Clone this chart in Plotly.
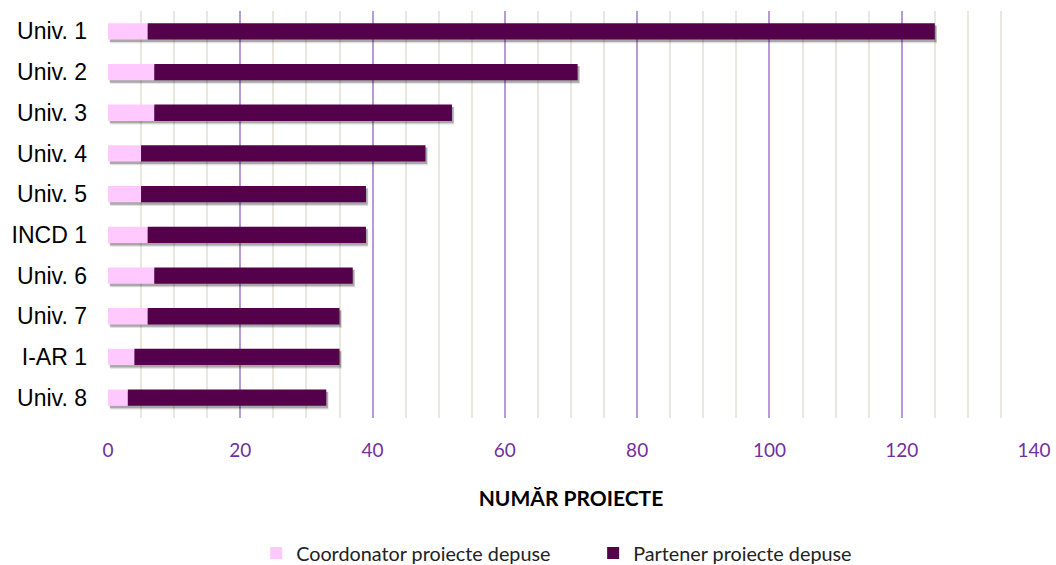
import plotly.graph_objects as go

categories = ["Univ. 1", "Univ. 2", "Univ. 3", "Univ. 4", "Univ. 5",
              "INCD 1", "Univ. 6", "Univ. 7", "I-AR 1", "Univ. 8"]
coordonator = [6, 7, 7, 5, 5, 6, 7, 6, 4, 3]
partener = [119, 64, 45, 43, 34, 33, 30, 29, 31, 30]
x_ticks = [0, 20, 40, 60, 80, 100, 120, 140]

totals = [c + p for c, p in zip(coordonator, partener)]
BW = 0.4

fig = go.Figure()
# soft drop shadow (two layers)
fig.add_trace(go.Bar(
    y=categories, x=totals, base=0.35, orientation="h", width=BW + 0.04,
    offset=-BW / 2 + 0.05, marker=dict(color="rgba(0,0,0,0.12)", line=dict(width=0)),
    showlegend=False, hoverinfo="skip",
))
fig.add_trace(go.Bar(
    y=categories, x=totals, base=0.25, orientation="h", width=BW,
    offset=-BW / 2 + 0.06, marker=dict(color="rgba(0,0,0,0.25)", line=dict(width=0)),
    showlegend=False, hoverinfo="skip",
))
fig.add_trace(go.Bar(
    y=categories, x=coordonator, orientation="h", width=BW, offset=-BW / 2,
    name="Coordonator proiecte depuse",
    marker=dict(color="#FFC9FF", line=dict(width=0)),
))
fig.add_trace(go.Bar(
    y=categories, x=partener, base=coordonator, orientation="h",
    width=BW, offset=-BW / 2,
    name="Partener proiecte depuse",
    marker=dict(color="#55004A", line=dict(width=0)),
))

fig.update_layout(
    barmode="overlay",
    width=1056, height=565,
    margin=dict(l=108, r=22, t=11, b=147, autoexpand=False),
    plot_bgcolor="white", paper_bgcolor="white",
    font=dict(family="Liberation Sans, Arial", color="black"),
    legend=dict(
        orientation="h", x=0.16, xanchor="left", y=-0.332, yanchor="middle",
        font=dict(family="Lato, Open Sans", size=19.8, color="#222222"),
        traceorder="normal", itemwidth=30,
        entrywidth=292, entrywidthmode="pixels",
    ),
    xaxis=dict(
        range=[0, 140], tickvals=x_ticks, automargin=False,
        showgrid=True, gridcolor="#B79AD8", gridwidth=1.5,
        minor=dict(dtick=5, showgrid=True, gridcolor="#EAE8DC", gridwidth=1.5),
        zeroline=False, showline=False,
        tickfont=dict(family="Lato, Open Sans", size=19, color="#7030A0"),
        ticks="", ticklabelstandoff=19,
        title=dict(text="<b>NUMĂR PROIECTE</b>", standoff=31,
                   font=dict(family="Lato, Open Sans", size=21, color="black")),
    ),
    yaxis=dict(
        autorange="reversed", showgrid=False, zeroline=False, showline=False,
        automargin=False,
        tickfont=dict(size=23, color="black"), ticks="", ticklabelstandoff=20,
    ),
)

fig.write_html("out.html", config={"displayModeBar": False},
               post_script="document.body.style.margin='0';")
